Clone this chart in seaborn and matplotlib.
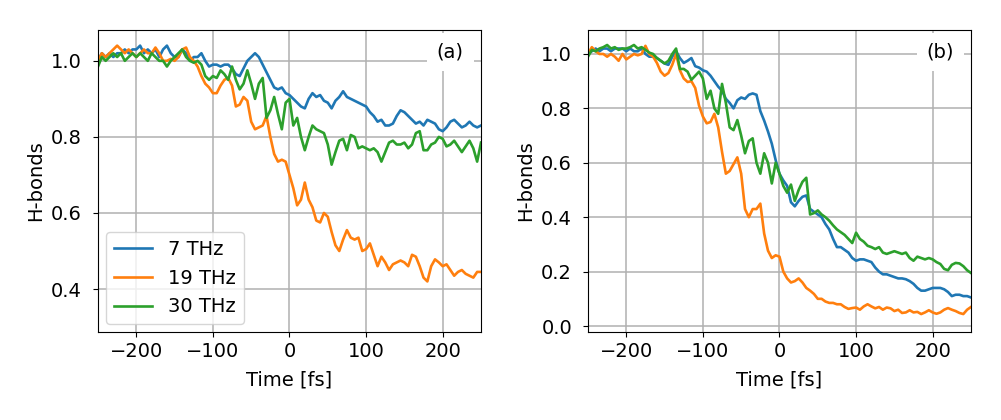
import numpy as np
import pandas as pd
import matplotlib
matplotlib.use('Agg')
import matplotlib.pyplot as plt
import seaborn as sns

# asse dei tempi (fs), campionato ogni 5 fs
time_fs = np.arange(-250, 251, 5)
etichette = ['7 THz', '19 THz', '30 THz']

# pannello (a)
a_7thz = [1.00, 1.02, 1.01, 1.02, 1.01, 1.02, 1.02, 1.03, 1.02, 1.03,
          1.03, 1.04, 1.02, 1.03, 1.02, 1.03, 1.01, 1.03, 1.04, 1.02,
          1.01, 1.01, 1.03, 1.02, 1.00, 1.01, 1.01, 1.02, 1.00, 0.985,
          0.99, 0.99, 0.985, 0.99, 0.99, 0.98, 0.965, 0.96, 0.98, 1.00,
          1.01, 1.02, 1.01, 0.99, 0.97, 0.95, 0.93, 0.925, 0.93, 0.915,
          0.91, 0.90, 0.89, 0.88, 0.875, 0.90, 0.915, 0.905, 0.91, 0.895,
          0.89, 0.875, 0.895, 0.905, 0.92, 0.905, 0.90, 0.895, 0.89, 0.885,
          0.88, 0.865, 0.855, 0.84, 0.845, 0.83, 0.83, 0.835, 0.855, 0.87,
          0.865, 0.855, 0.845, 0.835, 0.84, 0.83, 0.845, 0.84, 0.835, 0.82,
          0.815, 0.825, 0.84, 0.845, 0.835, 0.825, 0.83, 0.84, 0.83, 0.825,
          0.83]
a_19thz = [1.00, 1.02, 1.01, 1.02, 1.03, 1.04, 1.03, 1.02, 1.03, 1.02,
           1.01, 1.02, 1.03, 1.02, 1.02, 1.035, 1.02, 1.00, 1.00, 1.005,
           1.00, 1.01, 1.03, 1.035, 1.01, 1.00, 0.985, 0.96, 0.94, 0.93,
           0.915, 0.915, 0.935, 0.95, 0.955, 0.935, 0.88, 0.885, 0.905, 0.895,
           0.84, 0.82, 0.825, 0.83, 0.855, 0.80, 0.755, 0.735, 0.74, 0.735,
           0.70, 0.665, 0.62, 0.635, 0.68, 0.635, 0.615, 0.58, 0.575, 0.60,
           0.59, 0.55, 0.515, 0.50, 0.53, 0.555, 0.535, 0.53, 0.535, 0.50,
           0.505, 0.52, 0.49, 0.46, 0.485, 0.47, 0.45, 0.465, 0.47, 0.475,
           0.47, 0.46, 0.49, 0.485, 0.46, 0.43, 0.42, 0.46, 0.478, 0.47,
           0.46, 0.465, 0.45, 0.435, 0.445, 0.45, 0.44, 0.435, 0.43, 0.445,
           0.445]
a_30thz = [0.985, 1.01, 1.00, 1.01, 1.02, 1.01, 1.02, 1.00, 1.01, 1.02,
           1.01, 1.02, 1.01, 1.00, 1.02, 1.01, 1.00, 1.00, 0.985, 1.00,
           1.01, 1.02, 1.03, 1.01, 1.00, 0.995, 1.00, 0.99, 0.96, 0.95,
           0.96, 0.955, 0.975, 0.965, 0.95, 0.985, 0.95, 0.925, 0.94, 0.975,
           0.94, 0.90, 0.94, 0.955, 0.85, 0.87, 0.905, 0.86, 0.82, 0.89,
           0.90, 0.83, 0.85, 0.80, 0.765, 0.80, 0.83, 0.82, 0.815, 0.81,
           0.78, 0.727, 0.76, 0.79, 0.795, 0.765, 0.805, 0.80, 0.77, 0.775,
           0.77, 0.765, 0.77, 0.76, 0.735, 0.76, 0.785, 0.79, 0.78, 0.78,
           0.785, 0.77, 0.78, 0.81, 0.815, 0.765, 0.765, 0.78, 0.785, 0.80,
           0.795, 0.775, 0.78, 0.79, 0.775, 0.76, 0.775, 0.79, 0.77, 0.735,
           0.785]

# pannello (b)
b_7thz = [1.00, 1.01, 1.02, 1.01, 1.02, 1.02, 1.01, 1.02, 1.02, 1.02,
          1.01, 1.02, 1.01, 1.01, 1.02, 1.00, 0.99, 0.99, 0.985, 0.975,
          0.965, 0.96, 0.99, 1.01, 0.985, 0.967, 0.975, 0.985, 0.955, 0.95,
          0.94, 0.935, 0.92, 0.90, 0.88, 0.865, 0.835, 0.82, 0.80, 0.83,
          0.84, 0.835, 0.85, 0.855, 0.85, 0.79, 0.755, 0.715, 0.67, 0.61,
          0.56, 0.535, 0.515, 0.455, 0.44, 0.46, 0.475, 0.48, 0.43, 0.42,
          0.41, 0.40, 0.375, 0.355, 0.32, 0.29, 0.29, 0.28, 0.27, 0.25,
          0.24, 0.245, 0.245, 0.24, 0.235, 0.215, 0.20, 0.19, 0.19, 0.185,
          0.18, 0.175, 0.175, 0.172, 0.165, 0.155, 0.14, 0.13, 0.13, 0.135,
          0.14, 0.14, 0.14, 0.135, 0.125, 0.11, 0.115, 0.115, 0.11, 0.11,
          0.105]
b_19thz = [1.00, 1.025, 1.01, 1.00, 1.00, 0.99, 1.00, 0.99, 0.975, 1.00,
           0.98, 0.99, 1.00, 0.995, 1.00, 1.03, 1.00, 0.99, 0.967, 0.935,
           0.92, 0.93, 0.96, 1.00, 0.94, 0.91, 0.897, 0.90, 0.875, 0.81,
           0.77, 0.745, 0.75, 0.78, 0.73, 0.64, 0.56, 0.57, 0.595, 0.62,
           0.56, 0.43, 0.40, 0.43, 0.43, 0.45, 0.34, 0.277, 0.25, 0.26,
           0.255, 0.20, 0.175, 0.16, 0.165, 0.175, 0.16, 0.14, 0.13, 0.118,
           0.10, 0.10, 0.09, 0.085, 0.085, 0.08, 0.08, 0.07, 0.063, 0.066,
           0.068, 0.06, 0.072, 0.08, 0.072, 0.065, 0.07, 0.06, 0.068, 0.065,
           0.055, 0.06, 0.048, 0.05, 0.058, 0.05, 0.052, 0.044, 0.05, 0.058,
           0.05, 0.045, 0.05, 0.06, 0.066, 0.06, 0.055, 0.048, 0.044, 0.06,
           0.07]
b_30thz = [0.99, 1.015, 1.01, 1.02, 1.025, 1.033, 1.02, 1.025, 1.015, 1.02,
           1.02, 1.025, 1.033, 1.02, 1.025, 1.015, 1.005, 1.00, 0.985, 0.975,
           0.965, 0.975, 1.00, 1.02, 0.945, 0.945, 0.935, 0.905, 0.92, 0.935,
           0.91, 0.835, 0.865, 0.80, 0.78, 0.89, 0.82, 0.73, 0.72, 0.757,
           0.70, 0.635, 0.68, 0.69, 0.60, 0.56, 0.635, 0.60, 0.524, 0.60,
           0.56, 0.515, 0.49, 0.52, 0.46, 0.50, 0.53, 0.545, 0.41, 0.415,
           0.425, 0.41, 0.40, 0.387, 0.37, 0.355, 0.345, 0.335, 0.32, 0.305,
           0.343, 0.32, 0.31, 0.295, 0.29, 0.283, 0.29, 0.27, 0.265, 0.27,
           0.275, 0.27, 0.265, 0.27, 0.25, 0.24, 0.255, 0.25, 0.245, 0.25,
           0.245, 0.235, 0.228, 0.21, 0.205, 0.225, 0.232, 0.23, 0.22, 0.205,
           0.195]


# costruzione dataframe in formato lungo per seaborn
def crea_dataframe(serie):
    blocchi = []
    for etichetta, valori in zip(etichette, serie):
        blocchi.append(pd.DataFrame({'Time': time_fs, 'H-bonds': valori, 'Freq': etichetta}))
    return pd.concat(blocchi, ignore_index=True)


df_a = crea_dataframe([a_7thz, a_19thz, a_30thz])
df_b = crea_dataframe([b_7thz, b_19thz, b_30thz])

plt.rcParams['font.family'] = ['DejaVu Sans']
plt.rcParams['font.size'] = 14
palette = sns.color_palette('tab10', 3)

fig = plt.figure(figsize=(10.01, 4.2), dpi=100)
ax_a = fig.add_axes([0.0979, 0.2095, 0.3826, 0.719])
ax_b = fig.add_axes([0.5874, 0.2095, 0.3826, 0.719])

for ax, df, lettera in [(ax_a, df_a, '(a)'), (ax_b, df_b, '(b)')]:
    sns.lineplot(data=df, x='Time', y='H-bonds', hue='Freq', palette=palette,
                 linewidth=1.9, ax=ax, legend=(ax is ax_a))
    ax.set_xlim(-250, 250)
    ax.set_xticks([-200, -100, 0, 100, 200])
    ax.grid(True, color='#b0b0b0', linewidth=1.1)
    ax.set_axisbelow(True)
    ax.tick_params(axis='y', pad=8)
    ax.set_xlabel('Time [fs]', labelpad=7)
    ax.set_ylabel('H-bonds')
    ax.text(0.92, 0.927, lettera, transform=ax.transAxes, ha='center', va='center',
            bbox=dict(facecolor='white', edgecolor='none', pad=7), zorder=5)

ax_a.set_ylim(0.287, 1.081)
ax_a.set_yticks([0.4, 0.6, 0.8, 1.0])
ax_b.set_ylim(-0.022, 1.088)
ax_b.set_yticks([0.0, 0.2, 0.4, 0.6, 0.8, 1.0])
ax_a.legend(loc='lower left', title=None, borderaxespad=0.4)

fig.savefig('out.png', dpi=100)
